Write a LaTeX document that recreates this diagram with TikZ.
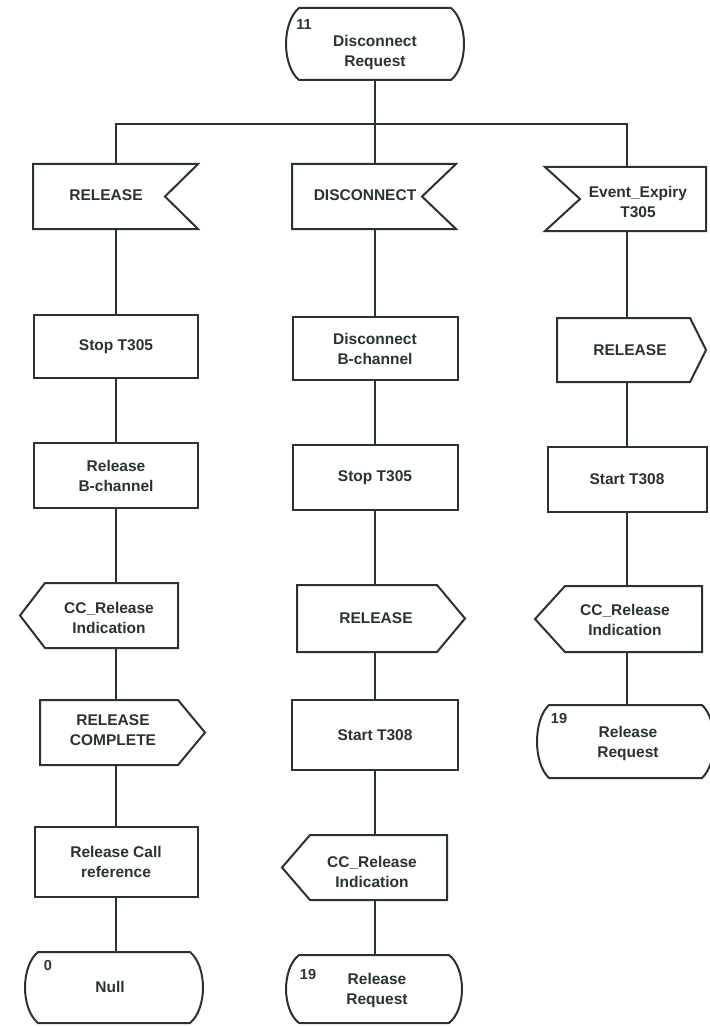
\documentclass[tikz,border=0pt]{standalone}
\usepackage{fontspec}
\setmainfont{Liberation Sans}
\definecolor{ink}{RGB}{40,52,48}
\newcommand\sdlstate[5]{% x1 x2 y1 y2 bulge
  \draw[shp] (#1,#3) -- (#2,#3)
    .. controls ({#2+1.33*#5},{#3+0.2*(#4-#3)}) and ({#2+1.33*#5},{#4-0.2*(#4-#3)}) .. (#2,#4)
    -- (#1,#4)
    .. controls ({#1-1.33*#5},{#4-0.2*(#4-#3)}) and ({#1-1.33*#5},{#3+0.2*(#4-#3)}) .. cycle;}
\begin{document}
\begin{tikzpicture}[x=1pt,y=-1pt,
  shp/.style={draw=ink,line width=2pt,fill=white,line join=miter},
  con/.style={draw=ink,line width=1.6pt},
  hold/.style={inner sep=0pt,minimum width=10pt,draw=none},
  txt/.style={text=ink,font=\fontsize{15.5}{20}\selectfont\bfseries,align=center,inner sep=0pt},
  num/.style={text=ink,font=\fontsize{14.5}{16}\selectfont\bfseries,inner sep=0pt},
  taskbox/.style={draw=ink,line width=2pt,fill=white,inner sep=0pt,align=center,text=ink,
    font=\fontsize{15.5}{20}\selectfont\bfseries}]
\fill[white] (0,0) rectangle (709,1027);
\useasboundingbox (0,0) rectangle (709,1027);

% ---------- outlines ----------
\sdlstate{299}{451}{8}{80}{13}
\draw[shp] (33,164) -- (198,164) -- (165,196.5) -- (198,229) -- (33,229) -- cycle;
\draw[shp] (292,164) -- (456,164) -- (422,196.5) -- (456,229) -- (292,229) -- cycle;
\draw[shp] (545,167) -- (706,167) -- (706,231) -- (545,231) -- (580,199) -- cycle;
\draw[shp] (45,583) -- (178,583) -- (178,648) -- (45,648) -- (20,615.5) -- cycle;
\draw[shp] (40,700) -- (178,700) -- (205,732.5) -- (178,765) -- (40,765) -- cycle;
\draw[shp] (297,585) -- (437,585) -- (465,618.5) -- (437,652) -- (297,652) -- cycle;
\draw[shp] (310,835) -- (447,835) -- (447,900) -- (310,900) -- (282,867.5) -- cycle;
\draw[shp] (557,318) -- (690,318) -- (706,350) -- (690,382) -- (557,382) -- cycle;
\draw[shp] (565,586) -- (702,586) -- (702,652) -- (565,652) -- (535,619) -- cycle;
\sdlstate{38}{190}{952}{1023}{13}
\sdlstate{299}{449}{955}{1023}{13}
\sdlstate{549}{702}{705}{778}{12}

% ---------- holder nodes (for connectors) ----------
\node[hold,minimum height=72pt] (s11) at (375,44) {};
\coordinate (j) at (375,124);
\node[hold,minimum height=65pt] (in1) at (116,196.5) {};
\node[hold,minimum height=65pt] (in2) at (375,196.5) {};
\node[hold,minimum height=64pt] (in3) at (627,199) {};
\node[hold,minimum height=65pt] (o1) at (116,615.5) {};
\node[hold,minimum height=65pt] (o2) at (116,732.5) {};
\node[hold,minimum height=67pt] (o3) at (375,618.5) {};
\node[hold,minimum height=65pt] (o4) at (375,867.5) {};
\node[hold,minimum height=64pt] (o5) at (627,350) {};
\node[hold,minimum height=66pt] (o6) at (627,619) {};
\node[hold,minimum height=71pt] (s0) at (116,987.5) {};
\node[hold,minimum height=68pt] (s19a) at (375,989) {};
\node[hold,minimum height=73pt] (s19b) at (627,741.5) {};

% ---------- task boxes ----------
\node[taskbox,minimum width=164pt,minimum height=63pt] (t1) at (116,346.5) {Stop T305};
\node[taskbox,minimum width=164pt,minimum height=65pt] (t2) at (116,475.5) {Release\\B-channel};
\node[taskbox,minimum width=163pt,minimum height=70pt] (t3) at (116,862) {Release Call\\reference};
\node[taskbox,minimum width=165pt,minimum height=63pt] (t4) at (375,348.5) {Disconnect\\B-channel};
\node[taskbox,minimum width=165pt,minimum height=65pt] (t5) at (375,477.5) {Stop T305};
\node[taskbox,minimum width=166pt,minimum height=70pt] (t6) at (375,735) {Start T308};
\node[taskbox,minimum width=159pt,minimum height=65pt] (t7) at (627,479.5) {Start T308};

% ---------- texts ----------
\node[num] (n11) at (304,25) {11};
\node[txt] (x11) at (375,52) {Disconnect\\Request};
\node[txt] (xin1) at (106,195) {RELEASE};
\node[txt] (xin2) at (365,195) {DISCONNECT};
\node[txt] (xin3) at (638,202) {Event\_Expiry\\T305};
\node[txt] (xo1) at (109,618) {CC\_Release\\Indication};
\node[txt] (xo2) at (113,730) {RELEASE\\COMPLETE};
\node[txt] (xo3) at (376,618) {RELEASE};
\node[txt] (xo4) at (372,872) {CC\_Release\\Indication};
\node[txt] (xo5) at (630,350) {RELEASE};
\node[txt] (xo6) at (625,620) {CC\_Release\\Indication};
\node[num] (n0) at (48,965) {0};
\node[txt] (xs0) at (110,987) {Null};
\node[num] (n19a) at (308,974) {19};
\node[txt] (xs19a) at (377,990) {Release\\Request};
\node[num] (n19b) at (559,718) {19};
\node[txt] (xs19b) at (628,743) {Release\\Request};

% ---------- connectors ----------
\draw[con] (s11) -- (j);
\draw[con] (j) -| (in1);
\draw[con] (j) -- (in2);
\draw[con] (j) -| (in3);
\draw[con] (in1) -- (t1) -- (t2) -- (o1) -- (o2) -- (t3) -- (s0);
\draw[con] (in2) -- (t4) -- (t5) -- (o3) -- (t6) -- (o4) -- (s19a);
\draw[con] (in3) -- (o5) -- (t7) -- (o6) -- (s19b);
\end{tikzpicture}
\end{document}
